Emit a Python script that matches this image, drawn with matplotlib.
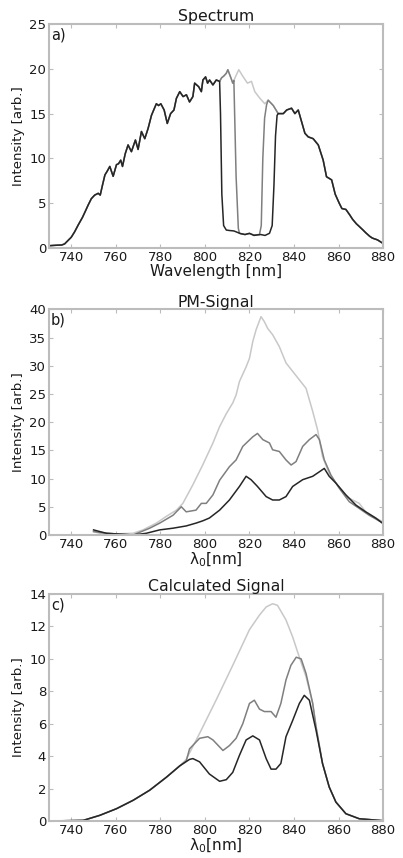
import numpy as np
import matplotlib
matplotlib.use("Agg")
import matplotlib.pyplot as plt

# ---- a) spectrum (full spectrum, light grey)
spec_wl = [730, 733, 735.7, 737, 738, 740, 741.5, 743.1, 745, 746.5, 747.6, 749, 750.5,
           752.1, 753, 754, 755.1, 756.2, 757.3, 758.8, 760.3, 761.2, 762.2, 763, 764.2,
           765.5, 767, 768.8, 770, 771.5, 773, 774.5, 776, 777, 778.2, 779.2, 780.2, 781.7,
           783.1, 784.6, 786.1, 787.2, 788.7, 790.2, 791.7, 793.1, 794.6, 795.4, 797.2,
           798.4, 799.1, 800.3, 801.2, 802.1, 803.6, 805.1, 806.6, 807.5, 808.5, 809.6,
           810.3, 811.8, 812.5, 813.7, 815.2, 817.2, 819.1, 820.9, 822.4, 824.7, 826.9,
           828.4, 830.7, 832.9, 835.2, 836.7, 838.9, 840.4, 841.9, 843.4, 844.9, 846.4,
           848.6, 850.9, 853.1, 854.6, 856.9, 858.5, 860.3, 861.5, 863.3, 865, 866.3, 868,
           869.3, 871, 872.2, 874, 875.2, 877.5, 880]
spec_full = [0.25, 0.3, 0.33, 0.45, 0.7, 1.2, 1.8, 2.56, 3.4, 4.2, 4.8, 5.5, 5.9,
             6.1, 5.9, 7.0, 8.15, 8.6, 9.1, 8.0, 9.3, 9.4, 9.8, 9.1, 10.5,
             11.5, 10.75, 12.05, 11.0, 13.0, 12.2, 13.35, 14.8, 15.4, 16.1, 15.9, 16.1, 15.4,
             13.9, 15.0, 15.4, 16.7, 17.45, 16.9, 17.1, 16.3, 16.9, 18.4, 18.0,
             17.45, 18.75, 19.1, 18.4, 18.75, 18.2, 18.75, 18.6, 19.0, 19.2, 19.5,
             19.9, 18.9, 18.4, 19.1, 19.9, 19.1, 18.4, 18.6, 17.45, 16.7, 16.1,
             16.5, 15.9, 15.0, 15.0, 15.4, 15.6, 15.0, 15.4, 14.1, 12.8, 12.4,
             12.2, 11.5, 9.8, 7.95, 7.6, 6.0, 5.0, 4.4, 4.3, 3.7, 3.2, 2.7,
             2.4, 2.0, 1.7, 1.3, 1.1, 0.9, 0.5]

# narrow notch (mid grey)
notch_mid_wl = [813.0, 814.0, 815.0, 815.5, 818, 820, 822, 824.5, 825.3, 826.0, 826.8, 827.7]
notch_mid_val = [18.7, 8.0, 2.2, 1.64, 1.5, 1.6, 1.45, 1.5, 2.5, 10.0, 14.5, 16.0]
# wide notch (dark)
notch_dark_wl = [807.0, 807.6, 808.4, 809.6, 811, 813, 816, 818, 820, 822, 825, 827, 829,
                 830.2, 831.0, 831.7, 832.4]
notch_dark_val = [15.0, 6.0, 2.5, 2.0, 1.95, 1.9, 1.6, 1.5, 1.64, 1.4, 1.5, 1.4, 1.64,
                  2.5, 7.0, 12.5, 14.8]

# ---- b) PM signal
pm_light_wl = [750, 752.8, 760.3, 767.8, 772.2, 778.2, 782.7, 787.2, 790.1, 794.6, 799,
               803.6, 806.6, 809.6, 812.5, 814, 815.5, 818.5, 820, 821.5, 823, 825.2,
               826.7, 828.2, 830.4, 833.4, 836.4, 839.4, 842.4, 845.4, 848.4, 850.6,
               852.8, 855.8, 858.8, 863.3, 866.3, 869.3, 872.2, 876.7, 880]
pm_light = [0.6, 0.3, 0.2, 0.3, 0.9, 2.1, 3.3, 4.4, 5.6, 8.9, 12.4,
            16.3, 19.2, 21.5, 23.4, 24.8, 27.2, 29.8, 31.3, 34.3, 36.4, 38.7,
            37.8, 36.6, 35.5, 33.4, 30.5, 29.0, 27.5, 26.0, 21.9, 18.6,
            13.9, 10.9, 9.2, 6.8, 6.2, 5.6, 4.1, 3.0, 2.3]
pm_mid_wl = [750, 755.8, 767.8, 775.2, 779.7, 785.7, 789.4, 791.6, 796, 798.4, 800.6,
             803.6, 806.6, 811, 814, 817, 821.5, 823.6, 826, 829, 830.4, 833.4, 836.4,
             838.7, 840.9, 843.9, 846.9, 849.9, 851.4, 853.6, 856.6, 860.3, 864.8,
             869.3, 873.7, 880]
pm_mid = [0.6, 0.3, 0.0, 1.2, 2.1, 3.5, 5.0, 4.1, 4.4, 5.6, 5.6,
          7.1, 9.7, 12.1, 13.3, 15.7, 17.4, 18.0, 16.9, 16.3, 15.1, 14.8, 13.3,
          12.4, 13.0, 15.7, 16.9, 17.8, 16.9, 13.3, 10.6, 8.3, 5.9,
          4.7, 3.5, 2.1]
pm_dark_wl = [750, 752.8, 755.8, 767.8, 773.7, 779.7, 785.7, 791.6, 796, 799, 802,
              806.6, 811, 815.5, 818.5, 820.7, 823.6, 827.5, 830.4, 833.4, 836.4, 839.4,
              843.9, 848.4, 851.4, 853.6, 855.8, 858.8, 863.3, 867.8, 872.2, 876.7, 880]
pm_dark = [0.9, 0.6, 0.3, 0.0, 0.3, 0.9, 1.2, 1.6, 2.1, 2.5, 3.0,
           4.4, 6.2, 8.6, 10.4, 9.8, 8.6, 6.8, 6.2, 6.2, 6.8, 8.6,
           9.8, 10.4, 11.2, 11.8, 10.4, 9.2, 7.1, 5.3, 4.1, 3.0, 2.0]

# ---- c) calculated signal
calc_dark_wl = [730, 745.4, 752.8, 760.3, 767.8, 775.2, 782.7, 788.7, 793.1, 794.6, 797.6,
                802, 806.6, 809.6, 812.5, 815.5, 818.5, 821.5, 824.5, 827.5, 829.7, 831.9,
                834.1, 836.4, 839.4, 842.4, 844.6, 846.9, 849.9, 852.8, 855.8, 858.8,
                863.3, 869.3, 880]
calc_dark = [0.0, 0.04, 0.35, 0.76, 1.28, 1.9, 2.7, 3.4, 3.8, 3.85, 3.65,
             2.9, 2.45, 2.55, 3.0, 4.05, 5.0, 5.25, 5.0, 3.85, 3.2, 3.2,
             3.55, 5.2, 6.2, 7.25, 7.75, 7.45, 5.6, 3.55, 2.1, 1.17,
             0.45, 0.14, 0.02]
calc_mid_wl = [730, 745.4, 752.8, 760.3, 767.8, 775.2, 782.7, 788.7, 791.6, 793.1, 797.6,
               801.3, 803.6, 808.1, 811, 814, 817, 820, 822.2, 824.5, 826.7, 829.7, 831.9,
               834.1, 836.4, 838.6, 841, 843.2, 845.4, 848.4, 849.9, 852.8, 855.8, 858.8,
               863.3, 869.3, 880]
calc_mid = [0.0, 0.04, 0.35, 0.76, 1.28, 1.9, 2.7, 3.4, 3.7, 4.45, 5.1,
            5.2, 5.0, 4.35, 4.65, 5.1, 6.0, 7.25, 7.45, 6.9, 6.75, 6.75, 6.4,
            7.25, 8.7, 9.6, 10.1, 10.0, 9.1, 7.25, 5.8, 3.55, 2.1, 1.17,
            0.45, 0.14, 0.02]
calc_light_wl = [730, 745.4, 752.8, 760.3, 767.8, 775.2, 782.7, 788.7, 791.6, 794.6, 797.6,
                 805, 812.5, 820, 824.5, 827.5, 830.4, 832.6, 836.4, 839.4, 842.4, 845.4,
                 848.4, 849.9, 852.8, 855.8, 858.8, 863.3, 869.3, 880]
calc_light = [0.0, 0.04, 0.35, 0.76, 1.28, 1.9, 2.7, 3.4, 3.8, 4.6, 5.4,
              7.45, 9.6, 11.8, 12.7, 13.2, 13.4, 13.3, 12.4, 11.35, 10.1, 8.9,
              7.25, 5.8, 3.55, 2.1, 1.17, 0.45, 0.14, 0.02]

c_light = "#c8c8c8"
c_mid = "#7f7f7f"
c_dark = "#262626"
spine_col = "#bcbcbc"
txt_col = "#1a1a1a"


def with_notch(wl, full, n_wl, n_val):
    wl = np.asarray(wl)
    full = np.asarray(full)
    keep = (wl < n_wl[0]) | (wl > n_wl[-1])
    x = np.concatenate([wl[keep], n_wl])
    y = np.concatenate([full[keep], n_val])
    order = np.argsort(x)
    return x[order], y[order]


def style_ax(ax, title, label, ylim, yticks, xlabel):
    ax.set_xlim(730, 880)
    ax.set_ylim(*ylim)
    ax.set_xticks(range(740, 881, 20))
    ax.set_yticks(yticks)
    for s in ax.spines.values():
        s.set_color(spine_col)
        s.set_linewidth(1.5)
    ax.tick_params(direction="in", length=3, color=spine_col, labelsize=9.5,
                   top=True, right=True, labelcolor=txt_col, pad=2)
    ax.set_title(title, fontsize=11.3, pad=2, color=txt_col)
    ax.set_ylabel("Intensity [arb.]", fontsize=9.6, labelpad=3, color=txt_col)
    ax.set_xlabel(xlabel, fontsize=11, labelpad=0, color=txt_col)
    ax.text(0.006, 0.985, label, transform=ax.transAxes, fontsize=10.5,
            va="top", ha="left", color=txt_col)


fig = plt.figure(figsize=(4.03, 8.58), dpi=100)
ax1 = fig.add_axes([0.1216, 0.711, 0.829, 0.261])
ax2 = fig.add_axes([0.1216, 0.3765, 0.829, 0.263])
ax3 = fig.add_axes([0.1216, 0.0431, 0.829, 0.2646])

lw = 1.1
ax1.plot(spec_wl, spec_full, color=c_light, lw=lw)
xm, ym = with_notch(spec_wl, spec_full, notch_mid_wl, notch_mid_val)
ax1.plot(xm, ym, color=c_mid, lw=lw)
xd, yd = with_notch(spec_wl, spec_full, notch_dark_wl, notch_dark_val)
ax1.plot(xd, yd, color=c_dark, lw=lw)
style_ax(ax1, "Spectrum", "a)", (0, 25), range(0, 26, 5), "Wavelength [nm]")

lam_label = r"$\mathregular{\lambda_0}$[nm]"

ax2.plot(pm_light_wl, pm_light, color=c_light, lw=lw)
ax2.plot(pm_mid_wl, pm_mid, color=c_mid, lw=lw)
ax2.plot(pm_dark_wl, pm_dark, color=c_dark, lw=lw)
style_ax(ax2, "PM-Signal", "b)", (0, 40), range(0, 41, 5), lam_label)

ax3.plot(calc_light_wl, calc_light, color=c_light, lw=lw)
ax3.plot(calc_mid_wl, calc_mid, color=c_mid, lw=lw)
ax3.plot(calc_dark_wl, calc_dark, color=c_dark, lw=lw)
style_ax(ax3, "Calculated Signal", "c)", (0, 14), range(0, 15, 2), lam_label)

fig.savefig("out.png", dpi=100)
